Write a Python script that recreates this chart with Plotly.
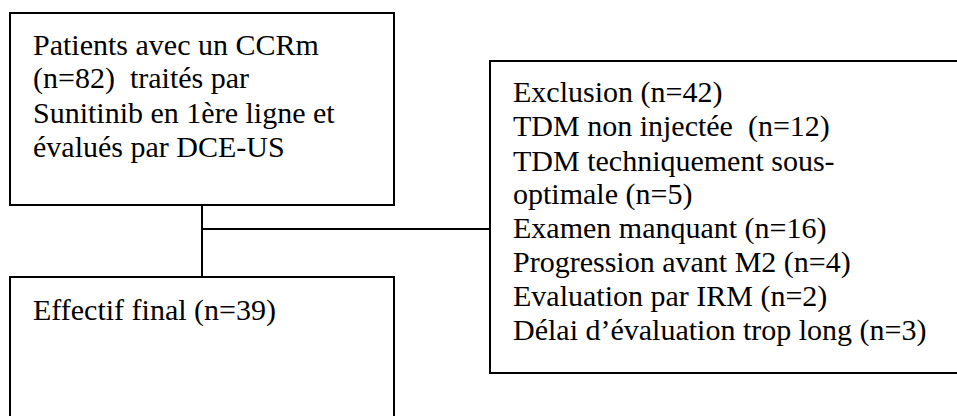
import plotly.graph_objects as go

# Flowchart content
box_names = ["inclusion", "final", "exclusion"]
box_x0 = [10, 10, 490]
box_x1 = [394, 394, 1000]
box_y0 = [13, 277, 61]
box_y1 = [205, 450, 373]

inclusion_lines = [
    "Patients avec un CCRm",
    "(n=82)  traités par",
    "Sunitinib en 1ère ligne et",
    "évalués par DCE-US",
]
final_lines = ["Effectif final (n=39)"]
exclusion_lines = [
    "Exclusion (n=42)",
    "TDM non injectée  (n=12)",
    "TDM techniquement sous-",
    "optimale (n=5)",
    "Examen manquant (n=16)",
    "Progression avant M2 (n=4)",
    "Evaluation par IRM (n=2)",
    "Délai d’évaluation trop long (n=3)",
]
text_blocks = [inclusion_lines, final_lines, exclusion_lines]
text_x = [31, 31, 511]
text_y_first = [44, 310, 92]
line_step = 34

W, H = 957, 416
LINE = "#000000"
FONT = "Liberation Serif"
FSIZE = 30

fig = go.Figure()
fig.add_trace(go.Scatter(x=[0, W], y=[0, H], mode="markers",
                         marker=dict(opacity=0), hoverinfo="skip", showlegend=False))

shapes = []
for x0, x1, y0, y1 in zip(box_x0, box_x1, box_y0, box_y1):
    shapes.append(dict(type="rect", xref="x", yref="y", x0=x0, x1=x1, y0=y0, y1=y1,
                       line=dict(color=LINE, width=2), fillcolor="rgba(0,0,0,0)"))

conn_x = (box_x0[0] + box_x1[0]) / 2
conn_y = 229
shapes.append(dict(type="line", xref="x", yref="y", x0=conn_x, x1=conn_x,
                   y0=box_y1[0], y1=box_y0[1], line=dict(color=LINE, width=2)))
shapes.append(dict(type="line", xref="x", yref="y", x0=conn_x, x1=box_x0[2],
                   y0=conn_y, y1=conn_y, line=dict(color=LINE, width=2)))

annotations = []
for lines, tx, ty in zip(text_blocks, text_x, text_y_first):
    for i, t in enumerate(lines):
        annotations.append(dict(x=tx, y=ty + i * line_step, xref="x", yref="y",
                                text=t, showarrow=False, xanchor="left", yanchor="middle",
                                font=dict(family=FONT, size=FSIZE, color="#000000")))

fig.update_layout(
    width=W, height=H,
    margin=dict(l=0, r=0, t=0, b=0),
    paper_bgcolor="white", plot_bgcolor="white",
    xaxis=dict(range=[0, W], visible=False, fixedrange=True),
    yaxis=dict(range=[H, 0], visible=False, fixedrange=True),
    shapes=shapes, annotations=annotations,
    showlegend=False,
)

fig.write_html("out.html", config={"displayModeBar": False},
               post_script="document.body.style.margin='0';document.body.style.overflow='hidden';")
